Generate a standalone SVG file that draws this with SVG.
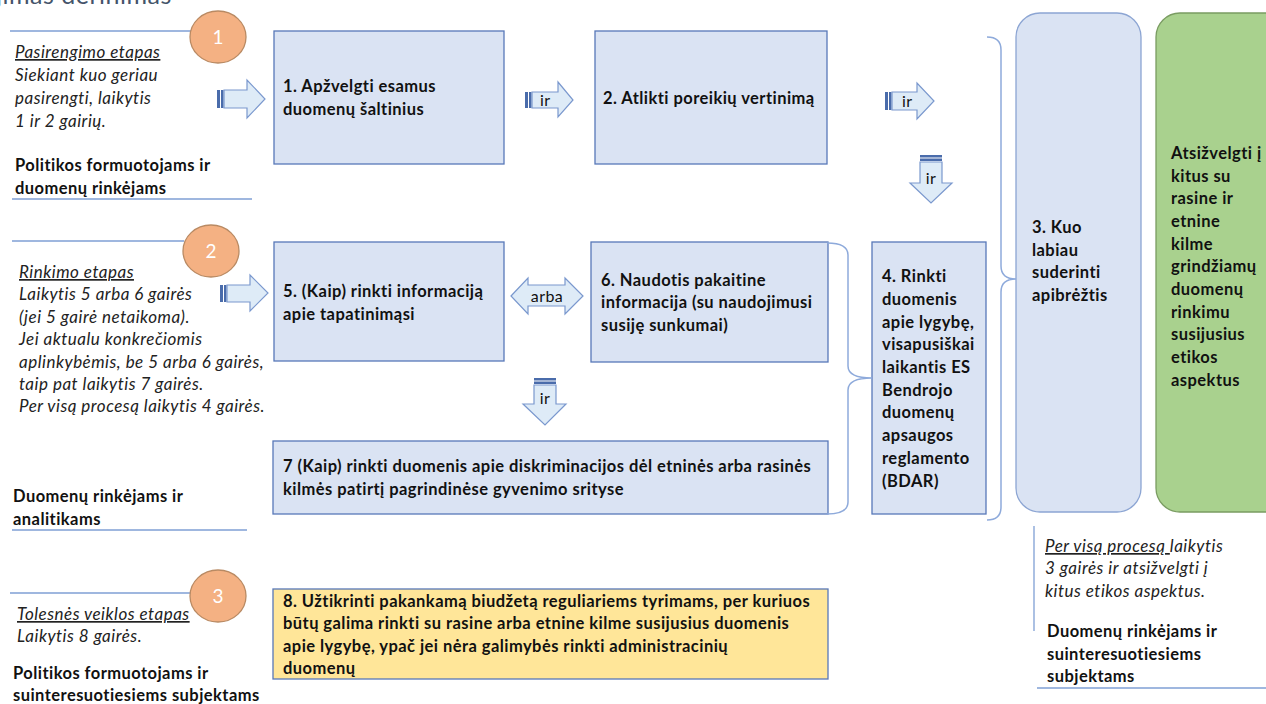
<svg xmlns="http://www.w3.org/2000/svg" width="1266" height="704" viewBox="0 0 1266 704">
<style>
  text { font-family: Lato, "Open Sans", "Liberation Sans", sans-serif; fill: #111; }
  .b { font-weight: bold; font-size: 16.5px; letter-spacing: 0.45px; }
  .i { font-style: italic; font-size: 17px; letter-spacing: 0.5px; fill: #222; }
  .u { text-decoration: underline; }
  .box { fill: #DAE3F3; stroke: #5878B8; stroke-width: 1.3; }
  .rbox { fill: #DAE3F3; stroke: #8CA5D3; stroke-width: 1.3; }
  .gbox { fill: #A9D18E; stroke: #7A9C62; stroke-width: 1.3; }
  .ybox { fill: #FFE699; stroke: #5878B8; stroke-width: 1.3; }
  .arr { fill: #DEEBF7; stroke: #7A98CE; stroke-width: 1.2; }
  .stripe { fill: #4A6CAB; }
  .brace { fill: none; stroke: #8EAADB; stroke-width: 1.5; }
  .rule { stroke: #7F9FD4; stroke-width: 1.3; }
  .circ { fill: #F4B183; stroke: #B98A63; stroke-width: 1.3; }
  .num { font-size: 19px; fill: #fff; text-anchor: middle; }
  .al { font-size: 16px; letter-spacing: 0.4px; fill: #111; }
</style>

<text x="-4" y="4" style="font-size:25px;fill:#44546A;letter-spacing:0.5px">jimas derinimas</text>

<g id="stage1">
  <line class="rule" x1="10" y1="31" x2="192" y2="31"/>
  <ellipse class="circ" cx="218" cy="37" rx="28" ry="26"/>
  <text class="num" x="218" y="44">1</text>
  <text class="i u" x="15" y="58">Pasirengimo etapas</text>
  <text class="i" x="15" y="81">Siekiant kuo geriau</text>
  <text class="i" x="15" y="104">pasirengti, laikytis</text>
  <text class="i" x="15" y="127">1 ir 2 gairių.</text>
  <text class="b" x="15" y="171">Politikos formuotojams ir</text>
  <text class="b" x="15" y="194">duomenų rinkėjams</text>
  <line class="rule" x1="12" y1="199" x2="252" y2="199"/>
</g>

<g id="stage2">
  <line class="rule" x1="12" y1="241" x2="184" y2="241"/>
  <ellipse class="circ" cx="211" cy="251" rx="28" ry="26"/>
  <text class="num" x="211" y="258">2</text>
  <text class="i u" x="19" y="278">Rinkimo etapas</text>
  <text class="i" x="19" y="300">Laikytis 5 arba 6 gairės</text>
  <text class="i" x="19" y="323">(jei 5 gairė netaikoma).</text>
  <text class="i" x="19" y="345">Jei aktualu konkrečiomis</text>
  <text class="i" x="19" y="368">aplinkybėmis, be 5 arba 6 gairės,</text>
  <text class="i" x="19" y="390">taip pat laikytis 7 gairės.</text>
  <text class="i" x="19" y="412">Per visą procesą laikytis 4 gairės.</text>
  <text class="b" x="13" y="502">Duomenų rinkėjams ir</text>
  <text class="b" x="13" y="525">analitikams</text>
  <line class="rule" x1="12" y1="530" x2="247" y2="530"/>
</g>

<g id="stage3">
  <line class="rule" x1="10" y1="593" x2="192" y2="593"/>
  <ellipse class="circ" cx="218" cy="596" rx="28" ry="26"/>
  <text class="num" x="218" y="603">3</text>
  <text class="i u" x="17" y="620">Tolesnės veiklos etapas</text>
  <text class="i" x="17" y="642">Laikytis 8 gairės.</text>
  <text class="b" x="13" y="679">Politikos formuotojams ir</text>
  <text class="b" x="13" y="701">suinteresuotiesiems subjektams</text>
</g>

<g id="node1">
  <rect class="box" x="274" y="31" width="230" height="133"/>
  <text class="b" x="283" y="92">1. Apžvelgti esamus</text>
  <text class="b" x="283" y="115">duomenų šaltinius</text>
</g>
<g id="node2">
  <rect class="box" x="595" y="31" width="232" height="133"/>
  <text class="b" x="603" y="104">2. Atlikti poreikių vertinimą</text>
</g>
<g id="node5">
  <rect class="box" x="274" y="242" width="230" height="119"/>
  <text class="b" x="283" y="297">5. (Kaip) rinkti informaciją</text>
  <text class="b" x="283" y="320">apie tapatinimąsi</text>
</g>
<g id="node6">
  <rect class="box" x="591" y="242" width="237" height="120"/>
  <text class="b" x="601" y="286">6. Naudotis pakaitine</text>
  <text class="b" x="601" y="308">informacija (su naudojimusi</text>
  <text class="b" x="601" y="331">susiję sunkumai)</text>
</g>
<g id="node7">
  <rect class="box" x="273" y="441" width="555" height="73"/>
  <text class="b" x="283" y="472">7 (Kaip) rinkti duomenis apie diskriminacijos dėl etninės arba rasinės</text>
  <text class="b" x="283" y="495">kilmės patirtį pagrindinėse gyvenimo srityse</text>
</g>
<g id="node8">
  <rect class="ybox" x="273" y="589" width="555" height="90"/>
  <text class="b" x="283" y="607">8. Užtikrinti pakankamą biudžetą reguliariems tyrimams, per kuriuos</text>
  <text class="b" x="283" y="629">būtų galima rinkti su rasine arba etnine kilme susijusius duomenis</text>
  <text class="b" x="283" y="652">apie lygybę, ypač jei nėra galimybės rinkti administracinių</text>
  <text class="b" x="283" y="674">duomenų</text>
</g>
<g id="node4">
  <rect class="box" x="872" y="242" width="114" height="272"/>
  <text class="b" x="882" y="282">4. Rinkti</text>
  <text class="b" x="882" y="305">duomenis</text>
  <text class="b" x="882" y="328">apie lygybę,</text>
  <text class="b" x="882" y="350">visapusiškai</text>
  <text class="b" x="882" y="373">laikantis ES</text>
  <text class="b" x="882" y="396">Bendrojo</text>
  <text class="b" x="882" y="418">duomenų</text>
  <text class="b" x="882" y="441">apsaugos</text>
  <text class="b" x="882" y="464">reglamento</text>
  <text class="b" x="882" y="487">(BDAR)</text>
</g>
<g id="node3">
  <rect class="rbox" x="1016" y="13" width="125" height="499" rx="24"/>
  <text class="b" x="1032" y="233">3. Kuo</text>
  <text class="b" x="1032" y="256">labiau</text>
  <text class="b" x="1032" y="278">suderinti</text>
  <text class="b" x="1032" y="301">apibrėžtis</text>
</g>
<g id="ethics">
  <rect class="gbox" x="1156" y="13" width="140" height="499" rx="24"/>
  <text class="b" x="1171" y="159">Atsižvelgti į</text>
  <text class="b" x="1171" y="182">kitus su</text>
  <text class="b" x="1171" y="204">rasine ir</text>
  <text class="b" x="1171" y="227">etnine</text>
  <text class="b" x="1171" y="250">kilme</text>
  <text class="b" x="1171" y="272">grindžiamų</text>
  <text class="b" x="1171" y="295">duomenų</text>
  <text class="b" x="1171" y="318">rinkimu</text>
  <text class="b" x="1171" y="340">susijusius</text>
  <text class="b" x="1171" y="363">etikos</text>
  <text class="b" x="1171" y="386">aspektus</text>
</g>
<g id="note">
  <line class="rule" x1="1034" y1="526" x2="1034" y2="631"/>
  <text class="i" x="1045" y="552"><tspan class="u">Per visą procesą </tspan>laikytis</text>
  <text class="i" x="1045" y="574">3 gairės ir atsižvelgti į</text>
  <text class="i" x="1045" y="597">kitus etikos aspektus.</text>
  <text class="b" x="1047" y="637">Duomenų rinkėjams ir</text>
  <text class="b" x="1047" y="660">suinteresuotiesiems</text>
  <text class="b" x="1047" y="682">subjektams</text>
  <line class="rule" x1="1037" y1="688" x2="1266" y2="688"/>
</g>

<g id="connectors">
  <g>
    <rect class="stripe" x="217" y="90" width="3" height="18"/>
    <rect class="stripe" x="221" y="90" width="2.5" height="18"/>
    <path class="arr" d="M224,90 H247 V80 L265,99 L247,118 V108 H224 Z"/>
  </g>
  <g>
    <rect class="stripe" x="525" y="92" width="3" height="16"/>
    <rect class="stripe" x="529" y="92" width="2.5" height="16"/>
    <path class="arr" d="M532,92 H558 V82 L573,100 L558,117 V108 H532 Z"/>
    <text class="al" x="540" y="106">ir</text>
  </g>
  <g>
    <rect class="stripe" x="885" y="92" width="3" height="18"/>
    <rect class="stripe" x="889" y="92" width="2.5" height="18"/>
    <path class="arr" d="M892,92 H917 V83 L934,101 L917,119 V110 H892 Z"/>
    <text class="al" x="902" y="107">ir</text>
  </g>
  <g>
    <rect class="stripe" x="220" y="285" width="3" height="17"/>
    <rect class="stripe" x="224" y="285" width="2.5" height="17"/>
    <path class="arr" d="M227,285 H250 V275 L268,293 L250,311 V302 H227 Z"/>
  </g>
  <g>
    <rect class="stripe" x="920" y="155" width="22" height="2.5"/>
    <rect class="stripe" x="920" y="158.5" width="22" height="2.5"/>
    <path class="arr" d="M920,162 H942 V183 H952 L931,203 L910,183 H920 Z"/>
    <text class="al" x="931" y="184" text-anchor="middle">ir</text>
  </g>
  <g>
    <rect class="stripe" x="534" y="378" width="22" height="2.5"/>
    <rect class="stripe" x="534" y="381.5" width="22" height="2.5"/>
    <path class="arr" d="M534,385 H556 V404 H566 L545,425 L523,404 H534 Z"/>
    <text class="al" x="545" y="404" text-anchor="middle">ir</text>
  </g>
  <g>
    <path class="arr" d="M511,296 L528,278 V285 H565 V278 L583,296 L565,314 V306 H528 V314 Z"/>
    <text class="al" x="547" y="302" text-anchor="middle">arba</text>
  </g>
  <path class="brace" d="M827,243 Q848,243 848,255 V366 Q848,378 872,378 Q848,378 848,390 V502 Q848,514 827,514"/>
  <path class="brace" d="M987,37 Q1001,37 1001,50 V266 Q1001,279 1016,279 Q1001,279 1001,292 V507 Q1001,520 987,520"/>
</g>
</svg>
